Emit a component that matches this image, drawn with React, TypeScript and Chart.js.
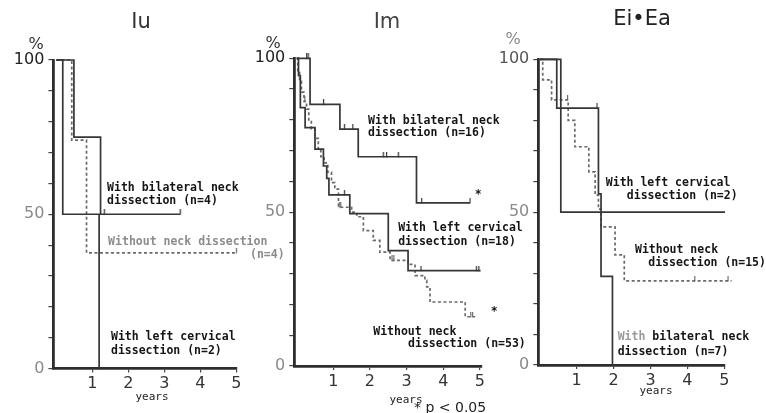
import React, { useEffect, useRef } from "react";
import { Chart, registerables } from "chart.js";

Chart.register(...registerables);

// ---------- shared tick values ----------
const xTickValues = [1, 2, 3, 4, 5];
const yTickValues = [0, 10, 20, 30, 40, 50, 60, 70, 80, 90, 100];
const yLabelValues = [0, 50, 100];

// ---------- Iu ----------
const iuLeftYears = [0, 0.18, 1.19];
const iuLeftSurv = [100, 50, 0];
const iuBilatYears = [0, 0.49, 1.23, 3.44];
const iuBilatSurv = [100, 75, 50, 50];
const iuBilatCensYears = [1.33, 3.44];
const iuBilatCensSurv = [50, 50];
const iuNoneYears = [0, 0.43, 0.84, 5.02];
const iuNoneSurv = [100, 74, 37.5, 37.5];
const iuNoneCensYears = [5.0];
const iuNoneCensSurv = [37.5];

// ---------- Im ----------
const imBilatYears = [0, 0.365, 1.18, 1.68, 3.27, 4.73];
const imBilatSurv = [100, 85, 77, 68, 53, 53];
const imBilatCensYears = [0.27, 0.31, 0.73, 1.3, 1.53, 2.36, 2.45, 2.77, 3.41, 4.73];
const imBilatCensSurv = [100, 100, 85, 77, 77, 68, 68, 68, 53, 53];
const imLeftYears = [0, 0.05, 0.1, 0.23, 0.5, 0.73, 0.82, 0.88, 1.45, 2.5, 3.04, 5.02];
const imLeftSurv = [100, 94.4, 84, 77.5, 70.5, 65, 61, 55.6, 49.5, 37.5, 31, 31];
const imLeftCensYears = [1.3, 3.39, 4.9, 4.97];
const imLeftCensSurv = [55.6, 31, 31, 31];
const imNoneYears = [0, 0.03, 0.08, 0.13, 0.2, 0.27, 0.33, 0.4, 0.5, 0.59, 0.66, 0.75, 0.85, 0.95, 1.04, 1.14, 1.5, 1.64, 1.82, 2.09, 2.27, 2.55, 3.04, 3.23, 3.5, 3.55, 3.64, 4.6, 4.87];
const imNoneSurv = [100, 96, 92.5, 89, 86, 83.5, 80, 77, 74, 70, 68, 66, 63, 59.6, 57.5, 51.6, 50, 48.5, 44, 40.8, 37, 34.3, 33, 29.4, 27.8, 25.7, 20.8, 16, 16];
const imNoneCensYears = [0.22, 1.16, 1.2, 2.6, 2.65, 4.75, 4.8];
const imNoneCensSurv = [86, 51.6, 51.6, 34.3, 34.3, 16, 16];

// ---------- Ei•Ea ----------
const eiLeftYears = [0, 0.57, 5.02];
const eiLeftSurv = [100, 50, 50];
const eiBilatYears = [0, 0.46, 1.59, 1.66, 1.97];
const eiBilatSurv = [100, 84, 56, 29, 0];
const eiBilatCensYears = [1.55];
const eiBilatCensSurv = [84];
const eiNoneYears = [0, 0.08, 0.32, 0.77, 0.95, 1.33, 1.5, 1.59, 1.66, 2.04, 2.29, 5.2];
const eiNoneSurv = [100, 93.3, 86.7, 80, 71.4, 63.2, 55.6, 51, 45.2, 36, 27.5, 27.5];
const eiNoneCensYears = [0.75, 4.2, 5.1, 5.15];
const eiNoneCensSurv = [86.7, 27.5, 27.5, 27.5];

// ---------- styling / layout ----------
const W = 766;
const H = 413;
const SOLID = "#363636";
const DASHED = "#6a6a6a";
const AXIS = "#2e2e2e";
const MONO = '"DejaVu Sans Mono", monospace';
const SANS = '"DejaVu Sans", sans-serif';

type Curve = { years: number[]; surv: number[]; cy: number[]; cs: number[]; dashed?: boolean };
type Label = { text: string; t: number; s: number; color?: string };
type Free = { text: string; x: number; y: number; font: string; color: string; align?: CanvasTextAlign };
type Panel = {
  id: string;
  geom: { left: number; right: number; top: number; bottom: number; xMin: number; xMax: number };
  curves: Curve[];
  labels: Label[];
  free: Free[];
  topLabelColor: string;
};

const panels: Panel[] = [
  {
    id: "Iu",
    geom: { left: 53.4, right: 237, top: 60, bottom: 368.5, xMin: -0.08, xMax: 5.02 },
    curves: [
      { years: iuLeftYears, surv: iuLeftSurv, cy: [], cs: [] },
      { years: iuBilatYears, surv: iuBilatSurv, cy: iuBilatCensYears, cs: iuBilatCensSurv },
      { years: iuNoneYears, surv: iuNoneSurv, cy: iuNoneCensYears, cs: iuNoneCensSurv, dashed: true },
    ],
    labels: [
      { text: "With bilateral neck", t: 1.41, s: 58.5 },
      { text: "dissection (n=4)", t: 1.41, s: 54.2 },
      { text: "Without neck dissection", t: 1.44, s: 40.9, color: "#8c8c8c" },
      { text: "(n=4)", t: 5.38, s: 36.7, color: "#8c8c8c" },
      { text: "With left cervical", t: 1.52, s: 10.2 },
      { text: "dissection (n=2)", t: 1.52, s: 5.7 },
    ],
    free: [
      { text: "Iu", x: 141, y: 23, font: `21px ${SANS}`, color: "#333", align: "center" },
      { text: "%", x: 36, y: 45, font: `16px ${SANS}`, color: "#333", align: "center" },
      { text: "years", x: 152, y: 397, font: `11px ${MONO}`, color: "#222", align: "center" },
    ],
    topLabelColor: "#222",
  },
  {
    id: "Im",
    geom: { left: 294.3, right: 481.7, top: 58.3, bottom: 366, xMin: -0.065, xMax: 5.05 },
    curves: [
      { years: imBilatYears, surv: imBilatSurv, cy: imBilatCensYears, cs: imBilatCensSurv },
      { years: imLeftYears, surv: imLeftSurv, cy: imLeftCensYears, cs: imLeftCensSurv },
      { years: imNoneYears, surv: imNoneSurv, cy: imNoneCensYears, cs: imNoneCensSurv, dashed: true },
    ],
    labels: [
      { text: "With bilateral neck", t: 1.95, s: 79.7 },
      { text: "dissection (n=16)", t: 1.95, s: 75.6 },
      { text: "*", t: 4.86, s: 55.5 },
      { text: "With left cervical", t: 2.77, s: 44.8 },
      { text: "dissection (n=18)", t: 2.77, s: 40.4 },
      { text: "*", t: 5.3, s: 17.5 },
      { text: "Without neck", t: 2.09, s: 11.1 },
      { text: "dissection (n=53)", t: 3.04, s: 7.1 },
    ],
    free: [
      { text: "Im", x: 387, y: 23, font: `21px ${SANS}`, color: "#444", align: "center" },
      { text: "%", x: 273, y: 44, font: `16px ${SANS}`, color: "#333", align: "center" },
      { text: "years", x: 406, y: 400, font: `11px ${MONO}`, color: "#222", align: "center" },
      { text: "* p < 0.05", x: 414, y: 408, font: `14px ${SANS}`, color: "#222", align: "left" },
    ],
    topLabelColor: "#222",
  },
  {
    id: "Ei",
    geom: { left: 538.3, right: 725, top: 59.3, bottom: 365, xMin: -0.04, xMax: 5.02 },
    curves: [
      { years: eiLeftYears, surv: eiLeftSurv, cy: [], cs: [] },
      { years: eiBilatYears, surv: eiBilatSurv, cy: eiBilatCensYears, cs: eiBilatCensSurv },
      { years: eiNoneYears, surv: eiNoneSurv, cy: eiNoneCensYears, cs: eiNoneCensSurv, dashed: true },
    ],
    labels: [
      { text: "With left cervical", t: 1.79, s: 59.6 },
      { text: "dissection (n=2)", t: 2.36, s: 55.4 },
      { text: "Without neck", t: 2.58, s: 37.6 },
      { text: "dissection (n=15)", t: 2.94, s: 33.3 },
      { text: "With", t: 2.11, s: 9.1, color: "#9a9a9a" },
      { text: "bilateral neck", t: 3.05, s: 9.1 },
      { text: "dissection (n=7)", t: 2.11, s: 4.2 },
    ],
    free: [
      { text: "Ei•Ea", x: 642, y: 20, font: `21px ${SANS}`, color: "#222", align: "center" },
      { text: "%", x: 513, y: 40, font: `16px ${SANS}`, color: "#888", align: "center" },
      { text: "years", x: 656, y: 391, font: `11px ${MONO}`, color: "#222", align: "center" },
    ],
    topLabelColor: "#555",
  },
];

const toPts = (xs: number[], ys: number[]) => xs.map((x, i) => ({ x, y: ys[i] }));

// small upward tick used as the censoring marker
function censorMark(color: string): HTMLCanvasElement {
  const c = document.createElement("canvas");
  c.width = 3;
  c.height = 10;
  const ctx = c.getContext("2d") as CanvasRenderingContext2D;
  ctx.fillStyle = color;
  ctx.fillRect(1, 0, 1.2, 5.5);
  return c;
}

function buildConfig(p: Panel): any {
  const g = p.geom;
  const yW = 45;
  const xH = 32;
  const datasets: any[] = [];
  p.curves.forEach((c) => {
    const color = c.dashed ? DASHED : SOLID;
    datasets.push({
      data: toPts(c.years, c.surv),
      stepped: "before",
      borderColor: color,
      borderWidth: 1.7,
      borderDash: c.dashed ? [3, 2.5] : [],
      pointRadius: 0,
      fill: false,
      clip: false,
    });
    if (c.cy.length) {
      datasets.push({
        data: toPts(c.cy, c.cs),
        showLine: false,
        pointStyle: censorMark(color),
        pointRadius: 3,
        borderColor: color,
        clip: false,
      });
    }
  });

  const textPlugin = {
    id: "texts" + p.id,
    afterDraw(chart: any) {
      const { ctx, scales } = chart;
      ctx.save();
      ctx.textBaseline = "middle";
      for (const l of p.labels) {
        ctx.font = `bold 11.5px ${MONO}`;
        ctx.fillStyle = l.color || "#151515";
        ctx.textAlign = "left";
        ctx.fillText(l.text, scales.x.getPixelForValue(l.t), scales.y.getPixelForValue(l.s));
      }
      for (const f of p.free) {
        ctx.font = f.font;
        ctx.fillStyle = f.color;
        ctx.textAlign = f.align || "left";
        ctx.fillText(f.text, f.x, f.y);
      }
      ctx.restore();
    },
  };

  return {
    type: "line",
    data: { datasets },
    plugins: [textPlugin],
    options: {
      responsive: false,
      animation: false,
      devicePixelRatio: 1,
      layout: {
        autoPadding: false,
        padding: { left: g.left - yW, right: W - g.right, top: g.top, bottom: H - g.bottom - xH },
      },
      plugins: { legend: { display: false }, tooltip: { enabled: false }, title: { display: false } },
      scales: {
        x: {
          type: "linear",
          min: g.xMin,
          max: g.xMax,
          afterBuildTicks: (s: any) => {
            s.ticks = xTickValues.map((v) => ({ value: v }));
          },
          afterFit: (s: any) => {
            s.height = xH;
          },
          grid: { drawOnChartArea: false, drawTicks: true, tickLength: 4, color: "#444", lineWidth: 1.2 },
          border: { display: true, color: AXIS, width: 2.8 },
          ticks: {
            autoSkip: false,
            maxRotation: 0,
            padding: 2,
            color: "#333",
            font: { family: SANS, size: 16 },
            callback: (v: any) => String(v),
          },
        },
        y: {
          type: "linear",
          min: 0,
          max: 100,
          afterBuildTicks: (s: any) => {
            s.ticks = yTickValues.map((v) => ({ value: v }));
          },
          afterFit: (s: any) => {
            s.width = yW;
          },
          grid: { drawOnChartArea: false, drawTicks: true, tickLength: 5, color: "#444", lineWidth: 1.2 },
          border: { display: true, color: AXIS, width: 2.8 },
          ticks: {
            autoSkip: false,
            padding: 4,
            font: { family: SANS, size: 16 },
            color: (ctx: any) => (ctx.tick && ctx.tick.value === 100 ? p.topLabelColor : "#8a8a8a"),
            callback: (v: any) => (yLabelValues.includes(v) ? String(v) : ""),
          },
        },
      },
    },
  };
}

export default function App() {
  const r0 = useRef<HTMLCanvasElement>(null);
  const r1 = useRef<HTMLCanvasElement>(null);
  const r2 = useRef<HTMLCanvasElement>(null);
  const refs = [r0, r1, r2];

  useEffect(() => {
    const charts = panels.map((p, i) => new Chart(refs[i].current as HTMLCanvasElement, buildConfig(p)));
    return () => charts.forEach((c) => c.destroy());
  }, []);

  return (
    <div style={{ position: "fixed", left: 0, top: 0, width: W, height: H, background: "#fff" }}>
      {panels.map((p, i) => (
        <canvas
          key={p.id}
          ref={refs[i]}
          width={W}
          height={H}
          style={{ position: "absolute", left: 0, top: 0, width: W, height: H }}
        />
      ))}
    </div>
  );
}
